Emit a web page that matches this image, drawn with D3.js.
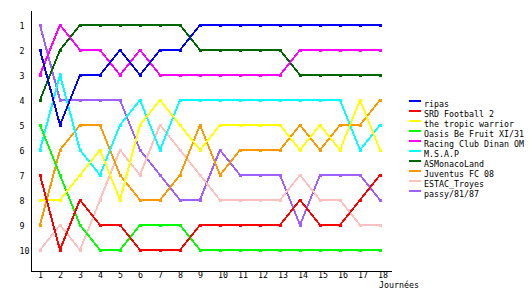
<!DOCTYPE html>
<html>
<head>
<meta charset="utf-8">
<script src="https://cdn.jsdelivr.net/npm/d3@7"></script>
<style>
  body { margin: 0; background: #fff; }
  text { font-family: "DejaVu Sans Mono", monospace; font-size: 8.3px; fill: #000; }
</style>
</head>
<body>
<div id="chart"></div>
<script>
// Journées (x) and ranks (y)
const journees = [1, 2, 3, 4, 5, 6, 7, 8, 9, 10, 11, 12, 13, 14, 15, 16, 17, 18];
const rankTicks = [1, 2, 3, 4, 5, 6, 7, 8, 9, 10];

const teams = ["ripas", "SRD Football 2", "the tropic warrior", "Oasis Be Fruit XI/31",
  "Racing Club Dinan OM", "M.S.A.P", "ASMonacoLand", "Juventus FC 08", "ESTAC_Troyes", "passy/81/87"];
const colors = ["#0000ff", "#ff0000", "#ffff00", "#00ff00", "#ff00ff",
  "#00ffff", "#006600", "#ff9900", "#ffc0c0", "#a060ff"];

// classement par journée
const ripas    = [2, 5, 3, 3, 2, 3, 2, 2, 1, 1, 1, 1, 1, 1, 1, 1, 1, 1];
const srd      = [7, 10, 8, 9, 9, 10, 10, 10, 9, 9, 9, 9, 9, 8, 9, 9, 8, 7];
const tropic   = [8, 8, 7, 6, 8, 5, 4, 5, 6, 5, 5, 5, 5, 6, 5, 6, 4, 6];
const oasis    = [5, 7, 9, 10, 10, 9, 9, 9, 10, 10, 10, 10, 10, 10, 10, 10, 10, 10];
const dinan    = [3, 1, 2, 2, 3, 2, 3, 3, 3, 3, 3, 3, 3, 2, 2, 2, 2, 2];
const msap     = [6, 3, 6, 7, 5, 4, 6, 4, 4, 4, 4, 4, 4, 4, 4, 4, 6, 5];
const monaco   = [4, 2, 1, 1, 1, 1, 1, 1, 2, 2, 2, 2, 2, 3, 3, 3, 3, 3];
const juventus = [9, 6, 5, 5, 7, 8, 8, 7, 5, 7, 6, 6, 6, 5, 6, 5, 5, 4];
const troyes   = [10, 9, 10, 8, 6, 7, 5, 6, 7, 8, 8, 8, 8, 7, 8, 8, 9, 9];
const passy    = [1, 4, 4, 4, 4, 6, 7, 8, 8, 6, 7, 7, 7, 9, 7, 7, 7, 8];

const series = [ripas, srd, tropic, oasis, dinan, msap, monaco, juventus, troyes, passy]
  .map((vals, i) => ({name: teams[i], color: colors[i], values: vals}));

const W = 530, H = 300;

const svg = d3.select("#chart")
  .append("svg")
    .attr("width", W)
    .attr("height", H);

const x = d3.scaleLinear()
  .domain([0.5, 18.55])
  .range([30, 391]);

const y = d3.scaleLinear()
  .domain([0.4, 10.8])
  .range([10, 270]);

// X axis
const gx = svg.append("g")
  .attr("transform", "translate(0,270.5)")
  .call(d3.axisBottom(x).tickValues(journees).tickSize(0).tickSizeOuter(0).tickFormat(d3.format("d")));
gx.select(".domain").attr("stroke", "#000").attr("shape-rendering", "crispEdges");
gx.selectAll("text")
  .attr("text-anchor", "start")
  .attr("x", -2.5)
  .attr("y", 0)
  .attr("dy", "7.2");

// Y axis
const gy = svg.append("g")
  .attr("transform", "translate(30.5,0)")
  .call(d3.axisLeft(y).tickValues(rankTicks).tickSize(0).tickSizeOuter(0).tickFormat(d3.format("d")));
gy.select(".domain").attr("stroke", "#000").attr("shape-rendering", "crispEdges");
gy.selectAll("text")
  .attr("text-anchor", "start")
  .attr("x", -11)
  .attr("dy", "3");

gx.selectAll("text, .domain");
svg.selectAll(".tick text").style("font-family", "'DejaVu Sans Mono', monospace").style("font-size", "8.3px");

svg.append("text")
  .attr("x", 379)
  .attr("y", 288)
  .text("Journées");

// Lines (last team drawn first)
const line = d3.line()
  .x((d, i) => x(journees[i]))
  .y(d => y(d));

const g = svg.append("g");
const order = series.slice().reverse();

g.selectAll(".team")
  .data(order)
  .join("path")
    .attr("class", "team")
    .attr("fill", "none")
    .attr("stroke", d => d.color)
    .attr("stroke-width", 2)
    .attr("shape-rendering", "crispEdges")
    .attr("d", d => line(d.values));

order.forEach(s => {
  g.append("g")
    .selectAll("rect")
    .data(s.values)
    .join("rect")
      .attr("x", (d, i) => x(journees[i]) - 1.5)
      .attr("y", d => y(d) - 1.5)
      .attr("width", 3)
      .attr("height", 3)
      .attr("fill", s.color)
      .attr("shape-rendering", "crispEdges");
});

// Legend
const legend = svg.append("g")
  .attr("transform", "translate(409,100)");

const item = legend.selectAll(".item")
  .data(series)
  .join("g")
    .attr("class", "item")
    .attr("transform", (d, i) => `translate(0,${i * 10})`);

item.append("rect")
  .attr("width", 12)
  .attr("height", 2)
  .attr("fill", d => d.color);

item.append("text")
  .attr("x", 15)
  .attr("y", 7)
  .text(d => d.name);
</script>
</body>
</html>
